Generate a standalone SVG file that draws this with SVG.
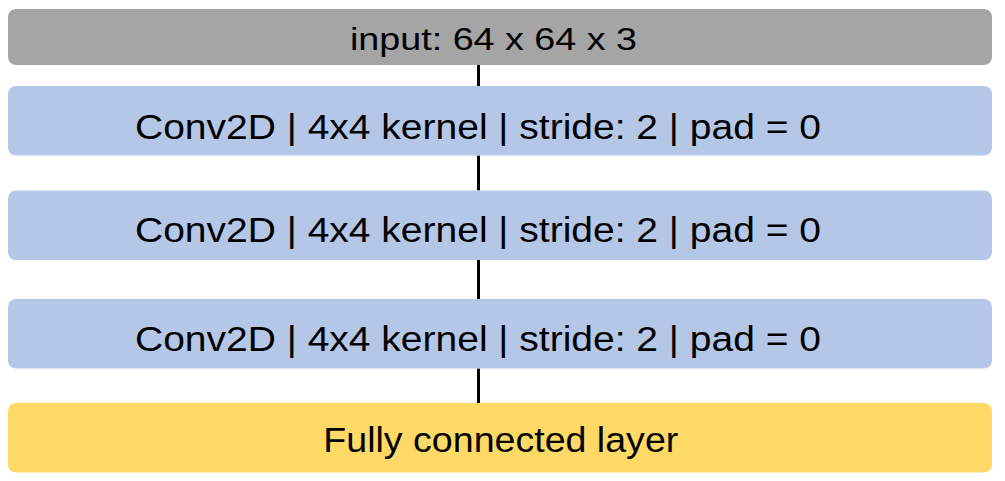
<svg xmlns="http://www.w3.org/2000/svg" width="1005" height="481" viewBox="0 0 1005 481">
  <style>
    .box { stroke: none; }
    .in { fill: #A5A5A5; }
    .conv { fill: #B4C7E7; }
    .fc { fill: #FFD966; }
    .lbl { font-family: "Liberation Sans", Arial, sans-serif; fill: #000000; text-anchor: middle; }
    .conn line { stroke: #000000; stroke-width: 3; }
  </style>
  <rect x="0" y="0" width="1005" height="481" fill="#FFFFFF"/>
  <g class="conn" id="connectors">
    <line x1="478.5" y1="65" x2="478.5" y2="86"/>
    <line x1="478.5" y1="155.5" x2="478.5" y2="190.5"/>
    <line x1="478.5" y1="260" x2="478.5" y2="299"/>
    <line x1="478.5" y1="368.5" x2="478.5" y2="403"/>
  </g>
  <g id="input">
    <rect class="box in" x="8" y="9" width="984" height="56" rx="8" ry="8"/>
    <text class="lbl" x="493.5" y="49.5" font-size="31" textLength="287" lengthAdjust="spacingAndGlyphs">input: 64 x 64 x 3</text>
  </g>
  <g id="conv1">
    <rect class="box conv" x="8" y="86" width="984" height="69.5" rx="8" ry="8"/>
    <text class="lbl" x="478" y="138.5" font-size="35.5" textLength="686" lengthAdjust="spacingAndGlyphs">Conv2D | 4x4 kernel | stride: 2 | pad = 0</text>
  </g>
  <g id="conv2">
    <rect class="box conv" x="8" y="190.5" width="984" height="69.5" rx="8" ry="8"/>
    <text class="lbl" x="478" y="242" font-size="35.5" textLength="686" lengthAdjust="spacingAndGlyphs">Conv2D | 4x4 kernel | stride: 2 | pad = 0</text>
  </g>
  <g id="conv3">
    <rect class="box conv" x="8" y="299" width="984" height="69.5" rx="8" ry="8"/>
    <text class="lbl" x="478" y="351" font-size="35.5" textLength="686" lengthAdjust="spacingAndGlyphs">Conv2D | 4x4 kernel | stride: 2 | pad = 0</text>
  </g>
  <g id="fc">
    <rect class="box fc" x="8" y="403" width="984" height="69.5" rx="8" ry="8"/>
    <text class="lbl" x="500.8" y="451.7" font-size="35.5" textLength="355" lengthAdjust="spacingAndGlyphs">Fully connected layer</text>
  </g>
</svg>
